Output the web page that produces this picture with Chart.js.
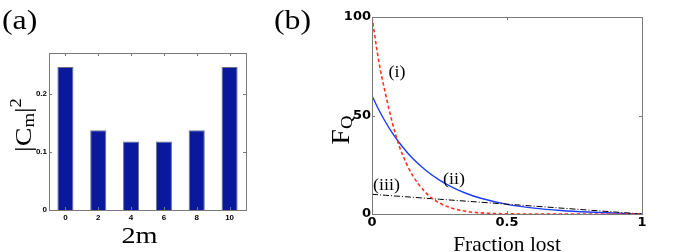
<!DOCTYPE html>
<html>
<head>
<meta charset="utf-8">
<script src="https://cdn.jsdelivr.net/npm/chart.js@4/dist/chart.umd.min.js"></script>
<style>
  body { margin: 0; background: #fff; }
  #wrap { position: relative; width: 675px; height: 252px; }
  #wrap canvas { position: absolute; left: 0; top: 0; }
</style>
</head>
<body>
<div id="wrap">
  <canvas id="chartA" width="675" height="252"></canvas>
  <canvas id="chartB" width="675" height="252"></canvas>
</div>
<script>
// panel (a)
const barLabels = ['0', '2', '4', '6', '8', '10'];
const barValues = [0.246, 0.137, 0.118, 0.118, 0.137, 0.246];

// panel (b)
const fracLost = [0, 0.025, 0.05, 0.075, 0.1, 0.125, 0.15, 0.2, 0.25, 0.3, 0.35, 0.4, 0.5, 0.6, 0.7, 0.8, 0.9, 1];
const curveI   = [100, 77.6, 61, 46.5, 34.9, 26.3, 19.7, 10.7, 5.6, 2.8, 1.3, 0.6, 0.1, 0, 0, 0, 0, 0];
const curveII  = [60, 52.9, 46.7, 41.2, 36.4, 32.1, 28.3, 22.1, 17.2, 13.4, 10.4, 8.1, 4.9, 3.0, 1.8, 1.0, 0.45, 0];
const curveIII = [10, 9.75, 9.5, 9.25, 9.0, 8.75, 8.5, 8.0, 7.5, 7.0, 6.5, 6.0, 5.0, 4.0, 3.0, 2.0, 1.0, 0];

const serif = '"Liberation Serif", "Times New Roman", serif';
const tickFontA = { family: '"Liberation Sans Narrow", "Liberation Sans", Arial, sans-serif', size: 8, weight: 'bold' };
const tickFontB = { family: '"DejaVu Sans", "Liberation Sans", sans-serif', size: 13, weight: 'bold' };

// text made of runs (for sub/superscripts), optionally rotated and stretched
function drawRuns(ctx, runs, x, y, rot, sx, align) {
  ctx.save();
  ctx.translate(x, y);
  ctx.rotate(rot || 0);
  ctx.scale(sx || 1, 1);
  ctx.fillStyle = '#000';
  ctx.textBaseline = 'alphabetic';
  ctx.textAlign = 'left';
  let w = 0;
  runs.forEach(r => { ctx.font = r.size + 'px ' + serif; r.w = ctx.measureText(r.t).width; w += r.w; });
  let cx = align === 'left' ? 0 : -w / 2;
  runs.forEach(r => {
    ctx.font = r.size + 'px ' + serif;
    ctx.fillText(r.t, cx, r.dy || 0);
    cx += r.w;
  });
  ctx.restore();
}

// matlab style box with inward ticks
function boxPlugin(texts) {
  return {
    id: 'box',
    afterDatasetsDraw(chart) {
      const ctx = chart.ctx, a = chart.chartArea;
      const xs = chart.scales.x, ys = chart.scales.y;
      ctx.save();
      ctx.strokeStyle = '#7a7a7a';
      ctx.lineWidth = 1;
      ctx.strokeRect(Math.round(a.left) + 0.5, Math.round(a.top) + 0.5, Math.round(a.right - a.left), Math.round(a.bottom - a.top));
      ctx.beginPath();
      xs.ticks.forEach((t, i) => {
        const px = Math.round(xs.getPixelForTick(i)) + 0.5;
        ctx.moveTo(px, a.bottom); ctx.lineTo(px, a.bottom - 3);
        ctx.moveTo(px, a.top); ctx.lineTo(px, a.top + 3);
      });
      ys.ticks.forEach((t, i) => {
        const py = Math.round(ys.getPixelForTick(i)) + 0.5;
        ctx.moveTo(a.left, py); ctx.lineTo(a.left + 3, py);
        ctx.moveTo(a.right, py); ctx.lineTo(a.right - 3, py);
      });
      ctx.stroke();
      ctx.restore();
    },
    afterDraw(chart) {
      texts(chart.ctx);
    }
  };
}

new Chart(document.getElementById('chartA'), {
  type: 'bar',
  data: {
    labels: barLabels,
    datasets: [{
      data: barValues,
      backgroundColor: '#0a199c',
      borderColor: '#6d6f8c',
      borderWidth: 1,
      barPercentage: 0.49,
      categoryPercentage: 1
    }]
  },
  options: {
    responsive: false,
    animation: false,
    layout: { padding: { left: 0, top: 53, right: 429, bottom: 0 } },
    plugins: { legend: { display: false }, tooltip: { enabled: false } },
    scales: {
      x: {
        offset: true,
        grid: { display: false, drawTicks: false },
        border: { display: false },
        ticks: { font: tickFontA, color: '#000', padding: 3, maxRotation: 0 },
        afterFit(s) { s.height = 42; }
      },
      y: {
        min: 0, max: 0.27,
        grid: { display: false, drawTicks: false },
        border: { display: false },
        ticks: {
          stepSize: 0.1, includeBounds: false, font: tickFontA, color: '#000', padding: 2,
          callback: v => v === 0 ? '0' : v.toFixed(1)
        },
        afterFit(s) { s.width = 49; }
      }
    }
  },
  plugins: [boxPlugin(ctx => {
    drawRuns(ctx, [{ t: '(a)', size: 27 }], 2, 29, 0, 1.18, 'left');
    drawRuns(ctx, [{ t: '2m', size: 24 }], 139.5, 243, 0, 1.18);
    drawRuns(ctx, [
      { t: '|C', size: 24 },
      { t: 'm', size: 16, dy: 3 },
      { t: '|', size: 24 },
      { t: '2', size: 16, dy: -10 }
    ], 31, 125, -Math.PI / 2, 1.17);
  })]
});

function pts(ys) { return fracLost.map((x, i) => ({ x: x, y: ys[i] })); }

new Chart(document.getElementById('chartB'), {
  type: 'line',
  data: {
    datasets: [
      { label: '(i)', data: pts(curveI), borderColor: '#ff3322', borderWidth: 1.6, borderDash: [3.5, 2.5], pointRadius: 0, cubicInterpolationMode: 'monotone' },
      { label: '(iii)', data: pts(curveIII), borderColor: '#000', borderWidth: 1, borderDash: [6, 2, 1, 2], pointRadius: 0, cubicInterpolationMode: 'monotone' },
      { label: '(ii)', data: pts(curveII), borderColor: '#1b3cff', borderWidth: 1.4, pointRadius: 0, cubicInterpolationMode: 'monotone' }
    ]
  },
  options: {
    responsive: false,
    animation: false,
    layout: { padding: { left: 337, top: 17, right: 33, bottom: 0 } },
    plugins: { legend: { display: false }, tooltip: { enabled: false } },
    scales: {
      x: {
        type: 'linear', min: 0, max: 1,
        grid: { display: false, drawTicks: false },
        border: { display: false },
        ticks: { stepSize: 0.5, font: tickFontB, color: '#000', padding: 1, maxRotation: 0,
          callback: v => String(v) },
        afterFit(s) { s.height = 38; }
      },
      y: {
        min: 0, max: 100,
        grid: { display: false, drawTicks: false },
        border: { display: false },
        ticks: { stepSize: 50, font: tickFontB, color: '#000', padding: 1 },
        afterFit(s) { s.width = 35; }
      }
    }
  },
  plugins: [boxPlugin(ctx => {
    drawRuns(ctx, [{ t: '(b)', size: 27 }], 274, 29, 0, 1.18, 'left');
    drawRuns(ctx, [{ t: 'Fraction lost', size: 21 }], 507, 251, 0, 1.02);
    drawRuns(ctx, [
      { t: 'F', size: 25 },
      { t: 'Q', size: 17, dy: 3 }
    ], 349, 130, -Math.PI / 2, 1.1);
    drawRuns(ctx, [{ t: '(i)', size: 16 }], 397, 77, 0, 1.12);
    drawRuns(ctx, [{ t: '(ii)', size: 16 }], 454, 184, 0, 1.12);
    drawRuns(ctx, [{ t: '(iii)', size: 16 }], 386.5, 190, 0, 1.12);
  })]
});
</script>
</body>
</html>
